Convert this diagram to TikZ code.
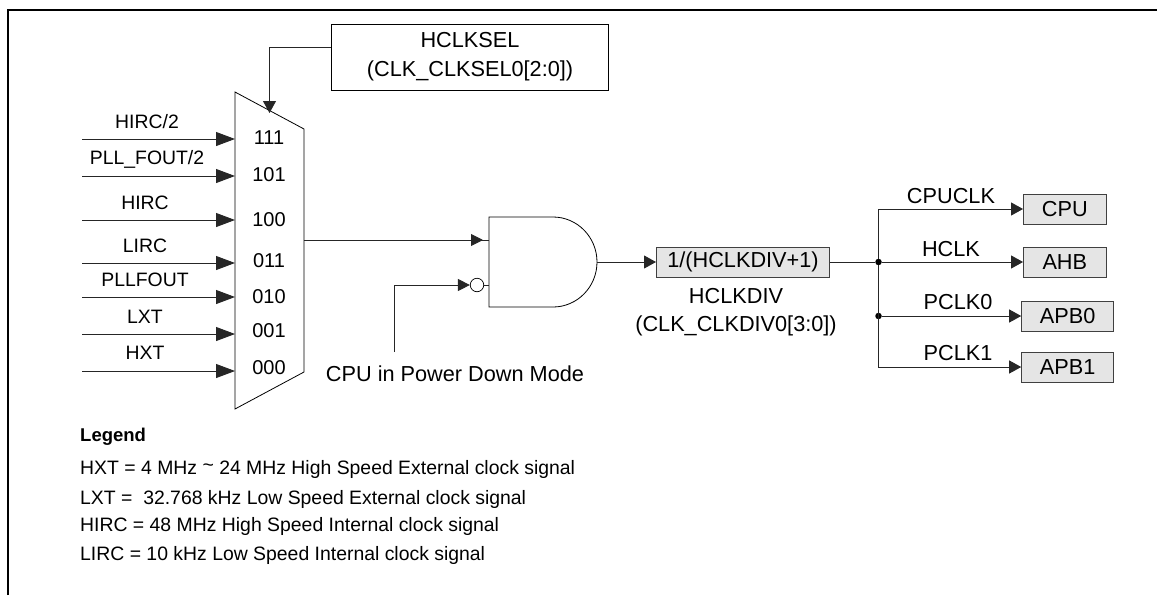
\documentclass[tikz,border=0pt]{standalone}
\usepackage{fontspec}
\setmainfont{Liberation Sans}
\usetikzlibrary{arrows.meta}
\tikzset{
  lbl/.style={inner sep=0pt,font=\fontsize{21.7}{24}\selectfont},
  inlbl/.style={inner sep=0pt,font=\fontsize{19.4}{22}\selectfont},
  muxlbl/.style={inner sep=0pt,font=\fontsize{20}{22}\selectfont},
  leg/.style={inner sep=0pt,anchor=west,font=\fontsize{19.4}{22}\selectfont},
  boxw/.style={draw,line width=0.8pt,fill=white,inner sep=0pt},
  boxg/.style={draw=black!75,line width=1pt,fill=black!10,inner sep=0pt,font=\fontsize{21.7}{24}\selectfont},
  wire/.style={line width=0.9pt,black!85},
  bigarr/.style={wire,-{Triangle[length=19pt,width=14pt]}},
  midarr/.style={wire,-{Triangle[length=12pt,width=13pt]}},
  dot/.style={circle,fill=black,inner sep=0pt,minimum size=6.5pt}
}
\begin{document}
\begin{tikzpicture}[x=1pt,y=-1pt]
\useasboundingbox (0,0) rectangle (1157,595);
% frame
\draw[line width=2pt] (8,595) -- (8,10) -- (1157,10);
% select box
\node[boxw,minimum width=277pt,minimum height=66pt,align=center,font=\fontsize{21.7}{29}\selectfont] (sel) at (470,57) {HCLKSEL\\(CLK\_CLKSEL0[2:0])};
% mux
\coordinate (mtl) at (235,92);
\coordinate (mtr) at (304,129);
\coordinate (mbr) at (304,372);
\coordinate (mbl) at (235,409);
\draw[line width=0.8pt,fill=white] (mtl) -- (mtr) -- (mbr) -- (mbl) -- cycle;
\coordinate (seltip) at (269.5,113);
\draw[midarr] (sel.west |- 0,47) -| (seltip);
% inputs
\foreach \n/\y/\ly/\lx/\t in {
  a/139/122/147/HIRC\slash 2,
  b/176/159/147/PLL\_FOUT\slash 2,
  c/220/203/145/HIRC,
  d/263/246/145/LIRC,
  e/297/280/145/PLLFOUT,
  f/334/317/145/LXT,
  g/371/353/145/HXT}{
  \coordinate (in\n) at (82,\y);
  \draw[bigarr] (in\n) -- (mtl |- in\n);
  \node[inlbl] (lab\n) at (\lx,\ly) {\t};
}
\node[muxlbl] (m7) at (269,138) {111};
\node[muxlbl] (m5) at (269,175) {101};
\node[muxlbl] (m4) at (269,220) {100};
\node[muxlbl] (m3) at (269,261) {011};
\node[muxlbl] (m2) at (269,297) {010};
\node[muxlbl] (m1) at (269,331) {001};
\node[muxlbl] (m0) at (269,368) {000};
% gate
\coordinate (gtl) at (489,217);
\coordinate (gbl) at (489,307);
\coordinate (gout) at (597,262);
\draw[line width=0.8pt,fill=white] (gbl) -- (gtl) -- (553,217) arc[start angle=-90,end angle=90,x radius=44,y radius=45] -- cycle;
\coordinate (g1) at (489,240);
\coordinate (g2) at (489,285);
\coordinate (mout) at (304,240);
\draw[wire] (mout) -- (g1);
\draw[wire,-{Triangle[length=12pt,width=12pt]}] (mout) -- (483,240);
\node[circle,draw,line width=0.7pt,fill=white,inner sep=0pt,minimum size=13.5pt] (bub) at (477,285) {};
\draw[wire] (bub) -- (g2);
\coordinate (pd) at (394,352);
\draw[wire,-{Triangle[length=12pt,width=12pt]}] (pd) |- (bub.west);
\node[lbl] (pdl) at (455,374) {CPU in Power Down Mode};
% divider
\node[boxg,minimum width=173pt,minimum height=30pt] (div) at (743,262) {1/(HCLKDIV+1)};
\draw[midarr] (gout) -- (div.west);
\node[lbl] (dl1) at (736,296) {HCLKDIV};
\node[lbl] (dl2) at (736,326) {(CLK\_CLKDIV0[3:0])};
% outputs
\node[boxg,minimum width=82.5pt,minimum height=30pt] (cpu) at (1064.8,209) {CPU};
\node[boxg,minimum width=82.5pt,minimum height=30pt] (ahb) at (1064.8,262) {AHB};
\node[boxg,minimum width=92pt,minimum height=30pt] (apb0) at (1067.7,316) {APB0};
\node[boxg,minimum width=92pt,minimum height=30pt] (apb1) at (1067.7,367) {APB1};
\node[dot] (d1) at (878.5,262) {};
\node[dot] (d2) at (878.5,316) {};
\draw[wire] (div.east) -- (d1);
\draw[midarr] (d1) -- (ahb.west);
\draw[midarr] (d2) -- (apb0.west);
\draw[midarr] (d1) |- (cpu.west);
\draw[midarr] (d1) |- (apb1.west);
\node[lbl] (l1) at (951,196) {CPUCLK};
\node[lbl] (l2) at (951,249) {HCLK};
\node[lbl] (l3) at (958,302) {PCLK0};
\node[lbl] (l4) at (958,353) {PCLK1};
% legend
\node[leg,font=\fontsize{18.5}{22}\selectfont\bfseries] (lg0) at (80,437) {Legend};
\node[leg] (lg1) at (80,469) {HXT = 4 MHz \raisebox{0.25ex}{\textasciitilde} 24 MHz High Speed External clock signal};
\node[leg] (lg2) at (80,499) {LXT = \ 32.768 kHz Low Speed External clock signal};
\node[leg] (lg3) at (80,526) {HIRC = 48 MHz High Speed Internal clock signal};
\node[leg] (lg4) at (80,555) {LIRC = 10 kHz Low Speed Internal clock signal};
\end{tikzpicture}
\end{document}
